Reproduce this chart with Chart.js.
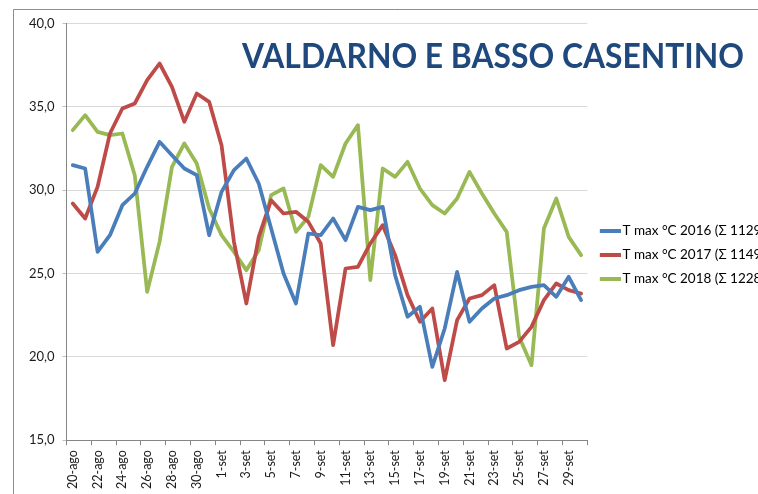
<!DOCTYPE html>
<html>
<head>
<meta charset="utf-8">
<script src="https://cdn.jsdelivr.net/npm/chart.js@4.4.1/dist/chart.umd.min.js"></script>
<style>
html, body { margin: 0; padding: 0; background: #ffffff; overflow: hidden; width: 758px; height: 494px; }
#wrap { position: absolute; left: 0; top: 0; width: 775px; height: 494px; }
</style>
</head>
<body>
<div id="wrap"><canvas id="c" width="775" height="494"></canvas></div>
<script>
// ---- data ----
const categories = [
  '20-ago','21-ago','22-ago','23-ago','24-ago','25-ago','26-ago','27-ago','28-ago','29-ago','30-ago','31-ago',
  '1-set','2-set','3-set','4-set','5-set','6-set','7-set','8-set','9-set','10-set',
  '11-set','12-set','13-set','14-set','15-set','16-set','17-set','18-set','19-set','20-set',
  '21-set','22-set','23-set','24-set','25-set','26-set','27-set','28-set','29-set','30-set'
];
const tmax2016 = [
  31.5, 31.3, 26.3, 27.3, 29.1, 29.8, 31.4, 32.9, 32.1, 31.3, 30.9, 27.3,
  29.9, 31.2, 31.9, 30.4, 27.7, 25.0, 23.2, 27.4, 27.3, 28.3,
  27.0, 29.0, 28.8, 29.0, 24.9, 22.4, 23.0, 19.4, 21.7, 25.1,
  22.1, 22.9, 23.5, 23.7, 24.0, 24.2, 24.3, 23.6, 24.8, 23.4
];
const tmax2017 = [
  29.2, 28.3, 30.2, 33.4, 34.9, 35.2, 36.6, 37.6, 36.2, 34.1, 35.8, 35.3,
  32.7, 26.9, 23.2, 27.2, 29.4, 28.6, 28.7, 28.1, 26.8, 20.7,
  25.3, 25.4, 26.8, 27.9, 26.1, 23.7, 22.1, 22.9, 18.6, 22.2,
  23.5, 23.7, 24.3, 20.5, 20.9, 21.8, 23.4, 24.4, 24.0, 23.8
];
const tmax2018 = [
  33.6, 34.5, 33.5, 33.3, 33.4, 30.9, 23.9, 26.9, 31.4, 32.8, 31.6, 28.9,
  27.3, 26.3, 25.2, 26.4, 29.7, 30.1, 27.5, 28.4, 31.5, 30.8,
  32.8, 33.9, 24.6, 31.3, 30.8, 31.7, 30.1, 29.1, 28.6, 29.5,
  31.1, 29.8, 28.6, 27.5, 21.2, 19.5, 27.7, 29.5, 27.2, 26.1
];
const seriesNames = ['T max °C 2016 (Σ 1129)', 'T max °C 2017 (Σ 1149)', 'T max °C 2018 (Σ 1228)'];
const yTickValues = [15, 20, 25, 30, 35, 40];
const chartTitle = 'VALDARNO E BASSO CASENTINO';

// ---- styles ----
const colors = ['#4A7EBB', '#BE4B48', '#98B954'];
const FONT = 'Lato, Carlito, "Open Sans", sans-serif';

function legendLine(color) {
  const cv = document.createElement('canvas');
  cv.width = 28; cv.height = 4;
  const g = cv.getContext('2d');
  g.fillStyle = color;
  g.fillRect(7, 0, 21, 4);
  return cv;
}

const decor = {
  id: 'decor',
  afterLayout(chart) {
    // nudge the legend block up a little (vertical centering as in the original)
    if (chart.legend) { chart.legend.top -= 4; chart.legend.bottom -= 4; }
  },
  beforeDraw(chart) {
    const ctx = chart.ctx;
    ctx.save();
    ctx.strokeStyle = '#8e8e8e';
    ctx.lineWidth = 1;
    ctx.beginPath();
    ctx.moveTo(13.5, chart.height);
    ctx.lineTo(13.5, 9.5);
    ctx.lineTo(chart.width, 9.5);
    ctx.stroke();
    ctx.restore();
  },
  afterDraw(chart) {
    const ctx = chart.ctx;
    ctx.save();
    ctx.font = 'bold 35px ' + FONT;
    ctx.fillStyle = '#1F497D';
    ctx.textBaseline = 'alphabetic';
    const w = ctx.measureText(chartTitle).width;
    ctx.translate(242, 68);
    ctx.scale(502 / w, 1);
    ctx.fillText(chartTitle, 0, 0);
    ctx.restore();
  }
};

const datasets = [tmax2016, tmax2017, tmax2018].map((vals, i) => ({
  label: seriesNames[i],
  data: vals,
  borderColor: colors[i],
  backgroundColor: colors[i],
  borderWidth: 3.75,
  pointRadius: 0,
  pointHoverRadius: 0,
  pointStyle: legendLine(colors[i]),
  tension: 0,
  borderJoinStyle: 'round',
  borderCapStyle: 'round',
  fill: false
}));

new Chart(document.getElementById('c'), {
  type: 'line',
  data: { labels: categories, datasets },
  options: {
    responsive: false,
    animation: false,
    events: [],
    layout: { padding: { left: 21, top: 23.5, right: 0, bottom: 0 } },
    plugins: {
      tooltip: { enabled: false },
      title: { display: false },
      legend: {
        position: 'right',
        align: 'center',
        labels: {
          usePointStyle: true,
          pointStyleWidth: 18,
          padding: 10.5,
          color: '#000000',
          font: { family: FONT, size: 13.5 }
        }
      }
    },
    scales: {
      x: {
        offset: true,
        grid: {
          offset: true,
          drawOnChartArea: false,
          drawTicks: true,
          tickLength: 5,
          color: (c) => (c.type !== 'tick' || c.index % 2 === 0) ? '#868686' : 'rgba(0,0,0,0)'
        },
        border: { display: true, color: '#868686', width: 1 },
        ticks: {
          autoSkip: false,
          minRotation: 90,
          maxRotation: 90,
          padding: 5,
          color: '#1a1a1a',
          font: { family: FONT, size: 12.5 },
          callback: (v, i) => (i % 2 === 0 ? categories[i] : '')
        }
      },
      y: {
        min: yTickValues[0],
        max: yTickValues[yTickValues.length - 1],
        afterBuildTicks: (s) => { s.ticks = yTickValues.map(v => ({ value: v })); },
        grid: { color: '#D9D9D9', tickColor: '#BFBFBF', tickLength: 4, lineWidth: 1 },
        border: { display: true, color: '#868686', width: 1 },
        ticks: {
          padding: 8,
          color: '#1a1a1a',
          font: { family: FONT, size: 13 },
          callback: (v) => Number(v).toFixed(1).replace('.', ',')
        }
      }
    }
  },
  plugins: [decor]
});
</script>
</body>
</html>
